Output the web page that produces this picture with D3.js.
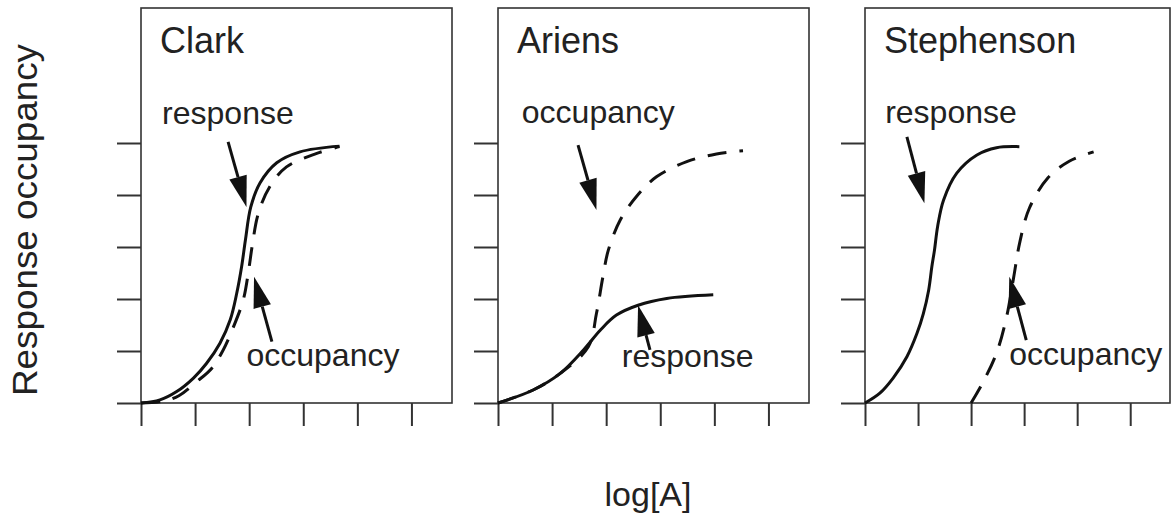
<!DOCTYPE html>
<html>
<head>
<meta charset="utf-8">
<script src="https://cdn.jsdelivr.net/npm/d3@7"></script>
<style>
  html, body { margin: 0; padding: 0; background: #fff; }
  text { font-family: "Liberation Sans", Arial, Helvetica, sans-serif; fill: #222; }
</style>
</head>
<body>
<svg id="chart"></svg>
<script>
// values (x in log[A] tick units, y in tick units)
var panelNames = ["Clark", "Ariens", "Stephenson"];
var xTicks = [0, 1, 2, 3, 4, 5];
var yTicks = [0, 1, 2, 3, 4, 5];

var clarkResponse = [[0, 0], [0.35, 0.06], [0.66, 0.22], [0.97, 0.48], [1.21, 0.76], [1.46, 1.15], [1.65, 1.60], [1.77, 2.11], [1.86, 2.62], [1.93, 3.13], [2.03, 3.77], [2.20, 4.23], [2.51, 4.62], [2.94, 4.83], [3.67, 4.94]];
var clarkOccupancy = [[0, 0], [0.4, 0.03], [0.7, 0.14], [1.03, 0.41], [1.31, 0.67], [1.52, 1.02], [1.70, 1.44], [1.89, 1.98], [1.99, 2.55], [2.06, 3.05], [2.17, 3.65], [2.38, 4.16], [2.69, 4.54], [3.25, 4.80], [3.67, 4.93]];

var ariensResponse = [[0, 0], [0.65, 0.25], [1.15, 0.57], [1.58, 1.02], [1.89, 1.40], [2.19, 1.69], [2.59, 1.88], [3.12, 2.01], [3.98, 2.08]];
var ariensOccupancy = [[0, 0], [0.65, 0.25], [1.15, 0.57], [1.67, 1.08], [1.82, 1.72], [1.94, 2.43], [2.04, 2.94], [2.26, 3.52], [2.56, 3.97], [2.93, 4.35], [3.49, 4.64], [4.04, 4.79], [4.53, 4.85]];

var stephensonResponse = [[0, 0], [0.28, 0.19], [0.53, 0.48], [0.79, 0.89], [0.98, 1.34], [1.10, 1.72], [1.20, 2.17], [1.26, 2.62], [1.31, 2.94], [1.37, 3.4], [1.48, 3.90], [1.73, 4.42], [2.11, 4.77], [2.48, 4.91], [2.91, 4.93]];
var stephensonOccupancy = [[2.0, 0], [2.23, 0.41], [2.48, 0.96], [2.67, 1.66], [2.80, 2.4], [2.92, 3.1], [3.10, 3.75], [3.45, 4.33], [3.85, 4.65], [4.31, 4.83]];

var responseSeries = [clarkResponse, ariensResponse, stephensonResponse];
var occupancySeries = [clarkOccupancy, ariensOccupancy, stephensonOccupancy];

// annotation labels [text, x, y] and arrows [x0, y0, x1 (tip), y1]
var labels = [
    [["response", 0.39, 5.37], ["occupancy", 1.95, 0.71]],
    [["occupancy", 0.44, 5.39], ["response", 2.29, 0.70]],
    [["response", 0.38, 5.38], ["occupancy", 2.72, 0.73]]
];
var arrows = [
    [[1.61, 5.02, 1.95, 3.77], [2.42, 1.18, 2.09, 2.43]],
    [[1.48, 4.96, 1.82, 3.71], [2.81, 1.02, 2.59, 1.88]],
    [[0.79, 5.12, 1.12, 3.84], [3.04, 1.21, 2.72, 2.43]]
];

var width = 1176, height = 517;
var panelLeft = [141, 498, 865],
    panelWidth = [311, 311, 305],
    panelTop = 8,
    panelBottom = 403;

var svg = d3.select("#chart")
    .attr("width", width)
    .attr("height", height);

var y = d3.scaleLinear().domain([0, 5]).range([panelBottom, 143]);

var line = d3.line().curve(d3.curveCatmullRom.alpha(0.5));

panelNames.forEach(function(name, i) {
    var x = d3.scaleLinear().domain([0, 5.75]).range([panelLeft[i], panelLeft[i] + panelWidth[i]]);
    line.x(function(d) { return x(d[0]); }).y(function(d) { return y(d[1]); });

    var g = svg.append("g").attr("class", "panel");

    g.append("rect")
        .attr("x", panelLeft[i])
        .attr("y", panelTop)
        .attr("width", panelWidth[i])
        .attr("height", panelBottom - panelTop)
        .attr("fill", "none")
        .attr("stroke", "#333")
        .attr("stroke-width", 1.6);

    var yAxis = g.append("g")
        .attr("transform", "translate(" + panelLeft[i] + ",0)")
        .call(d3.axisLeft(y).tickValues(yTicks).tickSize(24).tickFormat(""));
    var xAxis = g.append("g")
        .attr("transform", "translate(0," + panelBottom + ")")
        .call(d3.axisBottom(x).tickValues(xTicks).tickSize(23).tickFormat(""));
    [yAxis, xAxis].forEach(function(a) {
        a.select(".domain").remove();
        a.selectAll("line").attr("stroke", "#333").attr("stroke-width", 2);
    });

    g.append("path")
        .attr("d", line(occupancySeries[i]))
        .attr("fill", "none")
        .attr("stroke", "#111")
        .attr("stroke-width", 3)
        .attr("stroke-dasharray", "19,13");

    g.append("path")
        .attr("d", line(responseSeries[i]))
        .attr("fill", "none")
        .attr("stroke", "#111")
        .attr("stroke-width", 3);

    g.append("text")
        .attr("x", panelLeft[i] + 19)
        .attr("y", 53)
        .attr("font-size", 36)
        .text(name);

    labels[i].forEach(function(l) {
        g.append("text")
            .attr("x", x(l[1]))
            .attr("y", y(l[2]))
            .attr("font-size", 32)
            .text(l[0]);
    });

    arrows[i].forEach(function(a) {
        var x0 = x(a[0]), y0 = y(a[1]), x1 = x(a[2]), y1 = y(a[3]);
        var ang = Math.atan2(y1 - y0, x1 - x0);
        var headLen = 31, headW = 9;
        var bx = x1 - headLen * Math.cos(ang), by = y1 - headLen * Math.sin(ang);
        g.append("line")
            .attr("x1", x0).attr("y1", y0)
            .attr("x2", bx).attr("y2", by)
            .attr("stroke", "#111")
            .attr("stroke-width", 3);
        var px = -Math.sin(ang) * headW, py = Math.cos(ang) * headW;
        g.append("polygon")
            .attr("points", [[x1, y1], [bx + px, by + py], [bx - px, by - py]].map(function(p) { return p.join(","); }).join(" "))
            .attr("fill", "#111");
    });
});

svg.append("text")
    .attr("transform", "translate(37," + 220 + ") rotate(-90)")
    .attr("text-anchor", "middle")
    .attr("font-size", 35)
    .attr("textLength", 352)
    .attr("lengthAdjust", "spacingAndGlyphs")
    .text("Response occupancy");

svg.append("text")
    .attr("x", 648)
    .attr("y", 506)
    .attr("text-anchor", "middle")
    .attr("font-size", 34)
    .text("log[A]");
</script>
</body>
</html>
